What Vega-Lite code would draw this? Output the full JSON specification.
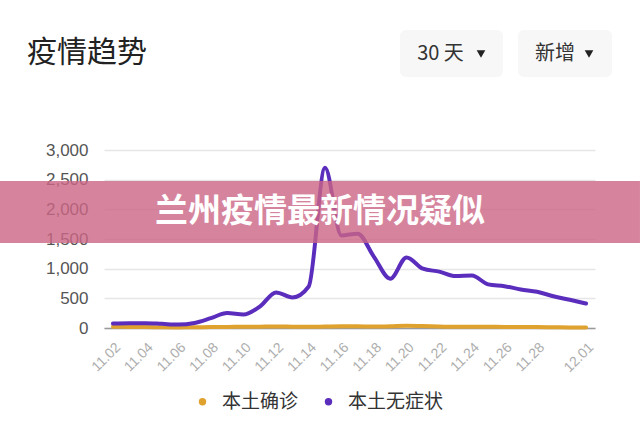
{
  "$schema": "https://vega.github.io/schema/vega-lite/v6.json",
  "width": 491,
  "height": 178,
  "autosize": {"type": "none"},
  "padding": {"left": 104, "top": 150, "right": 45, "bottom": 96},
  "background": "#ffffff",
  "config": {"view": {"stroke": null}, "font": "Noto Sans CJK SC"},
  "layer": [
    {
      "data": {
        "values": [
          {"date": "11.02", "本土确诊": 20, "本土无症状": 74},
          {"date": "11.03", "本土确诊": 18, "本土无症状": 82},
          {"date": "11.04", "本土确诊": 15, "本土无症状": 82},
          {"date": "11.05", "本土确诊": 12, "本土无症状": 70},
          {"date": "11.06", "本土确诊": 10, "本土无症状": 58},
          {"date": "11.07", "本土确诊": 12, "本土无症状": 85},
          {"date": "11.08", "本土确诊": 15, "本土无症状": 165},
          {"date": "11.09", "本土确诊": 18, "本土无症状": 253},
          {"date": "11.10", "本土确诊": 20, "本土无症状": 226},
          {"date": "11.11", "本土确诊": 22, "本土无症状": 360},
          {"date": "11.12", "本土确诊": 25, "本土无症状": 600},
          {"date": "11.13", "本土确诊": 22, "本土无症状": 515},
          {"date": "11.14", "本土确诊": 20, "本土无症状": 700},
          {"date": "11.15", "本土确诊": 25, "本土无症状": 2700},
          {"date": "11.16", "本土确诊": 30, "本土无症状": 1560},
          {"date": "11.17", "本土确诊": 28, "本土无症状": 1590},
          {"date": "11.18", "本土确诊": 25, "本土无症状": 1200},
          {"date": "11.19", "本土确诊": 30, "本土无症状": 830},
          {"date": "11.20", "本土确诊": 40, "本土无症状": 1190},
          {"date": "11.21", "本土确诊": 35, "本土无症状": 1000},
          {"date": "11.22", "本土确诊": 25, "本土无症状": 950},
          {"date": "11.23", "本土确诊": 20, "本土无症状": 875},
          {"date": "11.24", "本土确诊": 22, "本土无症状": 885},
          {"date": "11.25", "本土确诊": 20, "本土无症状": 735},
          {"date": "11.26", "本土确诊": 18, "本土无症状": 705},
          {"date": "11.27", "本土确诊": 15, "本土无症状": 650},
          {"date": "11.28", "本土确诊": 15, "本土无症状": 610},
          {"date": "11.29", "本土确诊": 12, "本土无症状": 535},
          {"date": "11.30", "本土确诊": 10, "本土无症状": 475},
          {"date": "12.01", "本土确诊": 10, "本土无症状": 412}
        ]
      },
      "transform": [{"fold": ["本土确诊", "本土无症状"], "as": ["series", "value"]}],
      "mark": {"type": "line", "interpolate": "monotone", "strokeWidth": 4, "strokeCap": "round"},
      "encoding": {
        "x": {
          "field": "date",
          "type": "ordinal",
          "sort": null,
          "scale": {"type": "point", "padding": 0.55},
          "axis": {
            "values": ["11.02", "11.04", "11.06", "11.08", "11.10", "11.12", "11.14", "11.16", "11.18", "11.20", "11.22", "11.24", "11.26", "11.28", "12.01"],
            "title": null,
            "labelAngle": -45,
            "labelFontSize": 14,
            "labelColor": "#adadad",
            "labelFont": "Liberation Sans",
            "ticks": false,
            "grid": false,
            "domainColor": "#9a9a9a",
            "domainWidth": 1.5,
            "labelPadding": 12
          }
        },
        "y": {
          "field": "value",
          "type": "quantitative",
          "scale": {"domain": [0, 3000], "nice": false},
          "axis": {
            "values": [0, 500, 1000, 1500, 2000, 2500, 3000],
            "format": ",d",
            "title": null,
            "domain": false,
            "ticks": false,
            "gridColor": "#e6e6e6",
            "gridWidth": 1.5,
            "labelFontSize": 17,
            "labelColor": "#555555",
            "labelFont": "Liberation Sans",
            "labelPadding": 16
          }
        },
        "color": {
          "field": "series",
          "type": "nominal",
          "scale": {"domain": ["本土确诊", "本土无症状"], "range": ["#e0a22e", "#5b2dbd"]},
          "legend": {
            "title": null,
            "orient": "none",
            "legendX": 89,
            "legendY": 242,
            "direction": "horizontal",
            "symbolType": "circle",
            "symbolSize": 55,
            "symbolStrokeWidth": 0,
            "labelFontSize": 19,
            "labelColor": "#333333",
            "labelFont": "Noto Sans CJK SC",
            "labelOffset": 10,
            "columnPadding": 20,
            "encode": {"symbols": {"update": {"fill": {"scale": "color", "field": "value"}, "stroke": {"value": "transparent"}}}}
          }
        }
      }
    },
    {
      "data": {"values": [{}]},
      "layer": [
        {
          "mark": {"type": "rect", "fill": "#cc6584", "opacity": 0.8, "clip": false},
          "encoding": {
            "x": {"datum": -0.2118, "type": "quantitative", "scale": {"domain": [0, 1], "nice": false, "zero": false}, "axis": null},
            "x2": {"datum": 1.0916},
            "y": {"datum": 0.4775, "type": "quantitative", "scale": {"domain": [0, 1], "nice": false, "zero": false}, "axis": null},
            "y2": {"datum": 0.8258}
          }
        },
        {
          "mark": {"type": "text", "text": "兰州疫情最新情况疑似", "fontSize": 33, "fontWeight": "bold", "font": "Noto Sans CJK SC", "color": "#ffffff", "align": "center", "baseline": "middle"},
          "encoding": {
            "x": {"datum": 0.4399, "type": "quantitative", "axis": null},
            "y": {"datum": 0.6517, "type": "quantitative", "axis": null}
          }
        },
        {
          "mark": {"type": "text", "text": "疫情趋势", "fontSize": 30, "font": "Noto Sans CJK SC", "color": "#222222", "align": "left", "baseline": "middle"},
          "encoding": {
            "x": {"datum": -0.1568, "type": "quantitative", "axis": null},
            "y": {"datum": 1.5449, "type": "quantitative", "axis": null}
          }
        },
        {
          "mark": {"type": "rect", "fill": "#f7f7f7", "cornerRadius": 6},
          "encoding": {
            "x": {"datum": 0.6029, "type": "quantitative", "axis": null},
            "x2": {"datum": 0.8126},
            "y": {"datum": 1.4101, "type": "quantitative", "axis": null},
            "y2": {"datum": 1.6742}
          }
        },
        {
          "mark": {"type": "rect", "fill": "#f7f7f7", "cornerRadius": 6},
          "encoding": {
            "x": {"datum": 0.8432, "type": "quantitative", "axis": null},
            "x2": {"datum": 1.0346},
            "y": {"datum": 1.4101, "type": "quantitative", "axis": null},
            "y2": {"datum": 1.6742}
          }
        },
        {
          "mark": {"type": "text", "text": "30 天", "fontSize": 20, "font": "Noto Sans CJK SC", "color": "#333333", "align": "center", "baseline": "middle"},
          "encoding": {
            "x": {"datum": 0.6853, "type": "quantitative", "axis": null},
            "y": {"datum": 1.5421, "type": "quantitative", "axis": null}
          }
        },
        {
          "mark": {"type": "text", "text": "新增", "fontSize": 20, "font": "Noto Sans CJK SC", "color": "#333333", "align": "center", "baseline": "middle"},
          "encoding": {
            "x": {"datum": 0.9185, "type": "quantitative", "axis": null},
            "y": {"datum": 1.5421, "type": "quantitative", "axis": null}
          }
        },
        {
          "mark": {"type": "point", "shape": "triangle-down", "filled": true, "size": 75, "color": "#222222", "opacity": 1},
          "encoding": {
            "x": {"datum": 0.7678, "type": "quantitative", "axis": null},
            "y": {"datum": 1.5393, "type": "quantitative", "axis": null}
          }
        },
        {
          "mark": {"type": "point", "shape": "triangle-down", "filled": true, "size": 75, "color": "#222222", "opacity": 1},
          "encoding": {
            "x": {"datum": 0.9878, "type": "quantitative", "axis": null},
            "y": {"datum": 1.5393, "type": "quantitative", "axis": null}
          }
        }
      ]
    }
  ],
  "resolve": {"scale": {"x": "independent", "y": "independent"}}
}
